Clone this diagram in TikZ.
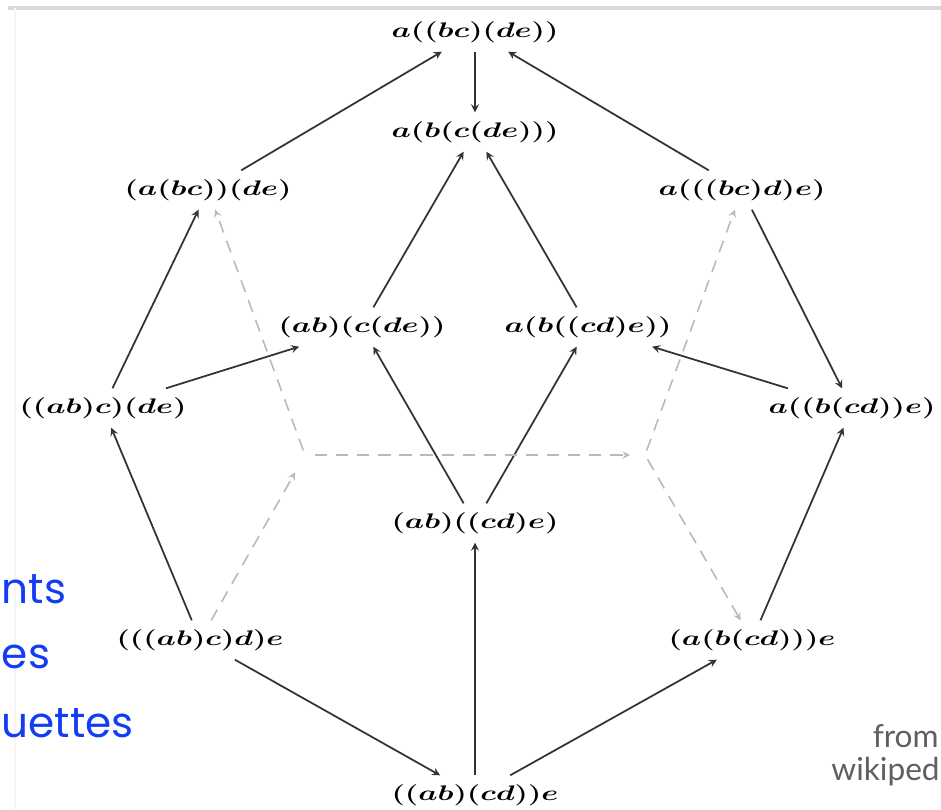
\documentclass[tikz,border=0pt]{standalone}
\usepackage{fontspec}
\usepackage{graphicx}
\usetikzlibrary{positioning}
\newfontfamily\handfont{Poppins}
\newfontfamily\srcfont{Lato}
\definecolor{slideblue}{RGB}{20,60,245}
\definecolor{srcgray}{RGB}{95,95,95}
\newcommand{\wx}[1]{\scalebox{1.45}[1]{\boldmath$#1$}}

\begin{document}
\begin{tikzpicture}[node distance=2cm, on grid, auto, >=stealth,
    every node/.style={font=\fontsize{13}{15}\selectfont, inner sep=5pt},
    edge/.style={->, line width=1pt, black!80},
    hidden/.style={->, line width=0.9pt, gray!55, dash pattern=on 7pt off 5pt}]
  \useasboundingbox (0,0) rectangle (18.82,-16.18);
  \draw[gray!30, line width=2pt] (0.16,-0.16) -- (18.82,-0.16);
  \draw[gray!8, line width=0.6pt] (0.3,-0.16) -- (0.3,-16.18);

  \node (T) at (9.5,-0.64) {\wx{a((bc)(de))}};
  \node[below=of T] (M) {\wx{a(b(c(de)))}};
  \node[below left=3.16cm and 5.34cm of T] (L1) {\wx{(a(bc))(de)}};
  \node[below right=3.16cm and 5.34cm of T] (R1) {\wx{a(((bc)d)e)}};
  \node[below left=3.9cm and 2.26cm of M] (L2) {\wx{(ab)(c(de))}};
  \node[below right=3.9cm and 2.26cm of M] (R2) {\wx{a(b((cd)e))}};
  \node[below left=4.36cm and 2.1cm of L1] (L3) {\wx{((ab)c)(de)}};
  \node[below right=4.36cm and 2.2cm of R1] (R3) {\wx{a((b(cd))e)}};
  \node[below=7.82cm of M] (C) {\wx{(ab)((cd)e)}};
  \node[below right=4.64cm and 1.94cm of L3] (L4) {\wx{(((ab)c)d)e}};
  \node[below left=4.64cm and 2.0cm of R3] (R4) {\wx{(a(b(cd)))e}};
  \node[below=5.44cm of C] (B) {\wx{((ab)(cd))e}};
  \coordinate[above left=1.36cm and 3.4cm of C] (hl);
  \coordinate[above right=1.36cm and 3.4cm of C] (hr);

  \draw[edge] (L1) to (T);
  \draw[edge] (T) to (M);
  \draw[edge] (R1) to (T);
  \draw[edge] (L2) to (M);
  \draw[edge] (R2) to (M);
  \draw[edge] (L3) to (L1);
  \draw[edge] (L3) to (L2);
  \draw[edge] (R1) to (R3);
  \draw[edge] (R3) to (R2);
  \draw[edge] (C) to (L2);
  \draw[edge] (C) to (R2);
  \draw[edge] (L4) to (L3);
  \draw[edge] (L4) to (B);
  \draw[edge] (B) to (C);
  \draw[edge] (B) to (R4);
  \draw[edge] (R4) to (R3);

  \draw[hidden, shorten >=0.4cm] (L4) to (hl);
  \draw[hidden, shorten <=0.1cm] (hl) to (L1);
  \draw[hidden, shorten <=0.2cm, shorten >=0.3cm] (hl) to (hr);
  \draw[hidden, shorten <=0.1cm] (hr) to (R1);
  \draw[hidden, shorten <=0.1cm] (hr) to (R4);

  \node[anchor=base west, inner sep=0pt, font=\handfont\fontsize{24}{28}\selectfont, text=slideblue] (w1) at (0.03,-12.06) {nts};
  \node[anchor=base west, inner sep=0pt, font=\handfont\fontsize{24}{28}\selectfont, text=slideblue] (w2) at (0.03,-13.36) {es};
  \node[anchor=base west, inner sep=0pt, font=\handfont\fontsize{24}{28}\selectfont, text=slideblue] (w3) at (0.03,-14.74) {uettes};
  \node[anchor=base east, inner sep=0pt, font=\srcfont\fontsize{18}{22}\selectfont, text=srcgray] (s1) at (18.78,-14.94) {from};
  \node[anchor=base east, inner sep=0pt, font=\srcfont\fontsize{18}{22}\selectfont, text=srcgray] (s2) at (18.8,-15.6) {wikiped};
\end{tikzpicture}
\end{document}
